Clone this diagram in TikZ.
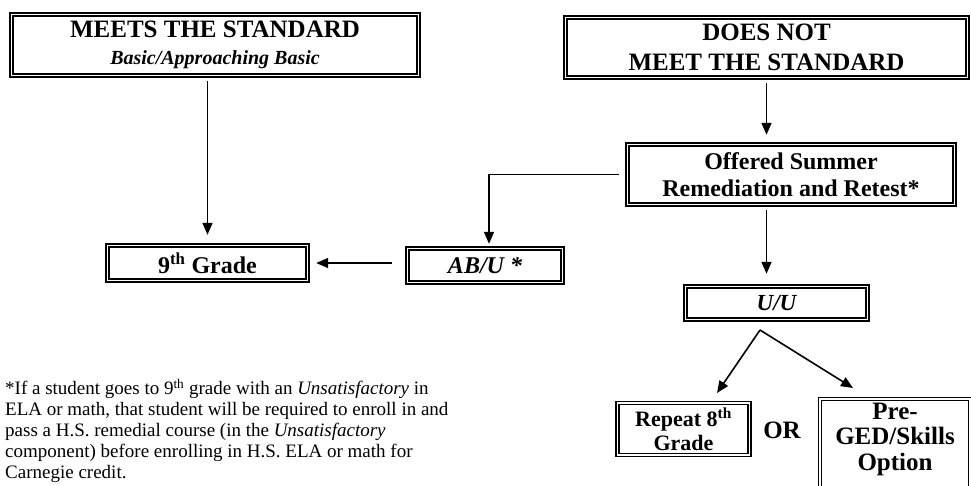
\documentclass[tikz,border=0pt]{standalone}
\usepackage{fontspec}
\setmainfont{Liberation Serif}
\usetikzlibrary{arrows.meta}
\begin{document}
\begin{tikzpicture}[x=1pt,y=-1pt,
  box/.style={draw, line width=1.4pt, double, double distance=1.5pt, inner sep=0pt, align=center,
    font=\fontsize{24}{27}\selectfont\bfseries},
  smallbox/.style={box, font=\fontsize{24}{27}\selectfont\bfseries},
  arr/.style={line width=1.6pt, -{Triangle[length=12pt,width=10pt]}},
]
\clip (0,0) rectangle (971,485);
\fill[white] (0,0) rectangle (971,485);

\node[box, minimum width=407, minimum height=61, font=\fontsize{25}{28}\selectfont\bfseries] (meets) at (215,45)
  {MEETS THE STANDARD\\[-1pt]{\fontsize{20}{22}\selectfont\itshape Basic/Approaching Basic}};
\node[box, minimum width=402, minimum height=60, font=\fontsize{25}{30}\selectfont\bfseries] (notmeet) at (766.5,47.5)
  {DOES NOT\\MEET THE STANDARD};
\node[box, minimum width=327, minimum height=60] (offered) at (791,174.5)
  {Offered Summer\\Remediation and Retest*};
\node[smallbox, minimum width=200, minimum height=35] (ninth) at (207.5,263)
  {9\textsuperscript{th} Grade};
\node[smallbox, minimum width=155, minimum height=34, font=\fontsize{24}{27}\selectfont\bfseries\itshape] (abu) at (485,265.5)
  {AB/U *};
\node[smallbox, minimum width=182, minimum height=33, font=\fontsize{23}{26}\selectfont\bfseries\itshape] (uu) at (776.5,303)
  {U/U};
\node[box, minimum width=132, minimum height=52, font=\fontsize{22}{24}\selectfont\bfseries] (repeat) at (683.5,429)
  {Repeat 8\textsuperscript{th}\\Grade};
\node[font=\fontsize{25}{28}\selectfont\bfseries, inner sep=0pt] (or) at (782,430) {OR};
\node[box, minimum width=150, minimum height=94, font=\fontsize{25}{25.5}\selectfont\bfseries] (pre) at (895,446)
  {Pre-\\GED/Skills\\Option\\[-7pt]\mbox{}};

\node[anchor=north west, inner sep=0pt, align=left, font=\fontsize{19}{21}\selectfont] (note) at (5,379)
  {*If a student goes to 9\textsuperscript{th} grade with an \textit{Unsatisfactory} in\\
   ELA or math, that student will be required to enroll in and\\
   pass a H.S. remedial course (in the \textit{Unsatisfactory}\\
   component) before enrolling in H.S. ELA or math for\\
   Carnegie credit.};

\coordinate (apex) at (760,330);
\coordinate (rtip) at (717,393);
\coordinate (ptip) at (853,388);

\draw[arr, shorten <=5pt, shorten >=10pt] (meets.south -| ninth.north) -- (ninth.north);
\draw[arr, shorten <=5pt, shorten >=9pt] (notmeet.south) -- (notmeet.south |- offered.north);
\draw[arr, shorten <=8pt, shorten >=4pt] (offered.west) -| ([xshift=4pt]abu.north);
\draw[arr, shorten <=15pt, shorten >=8pt] (ninth.east -| abu.west) -- (ninth.east);
\draw[arr, shorten <=5pt, shorten >=12pt] (offered.south -| notmeet.south) -- (uu.north -| notmeet.south);
\draw[arr] (apex) -- (rtip);
\draw[arr] (apex) -- (ptip);
\end{tikzpicture}
\end{document}
